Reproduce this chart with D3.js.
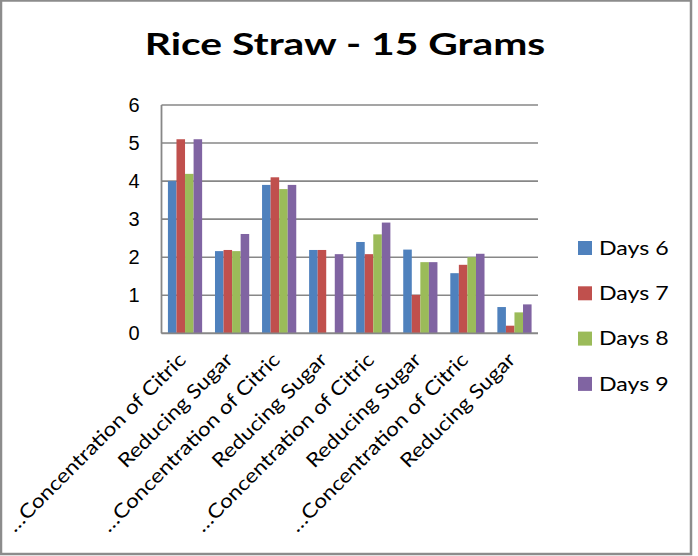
<!DOCTYPE html>
<html>
<head>
<meta charset="utf-8">
<script src="https://cdn.jsdelivr.net/npm/d3@7"></script>
<style>
  html, body { margin: 0; padding: 0; background: #fff; }
  svg { display: block; }
</style>
</head>
<body>
<svg id="chart" width="698" height="556"></svg>
<script>
// Category labels along the x axis
const categories = [
  "…Concentration of Citric", "Reducing Sugar",
  "…Concentration of Citric", "Reducing Sugar",
  "…Concentration of Citric", "Reducing Sugar",
  "…Concentration of Citric", "Reducing Sugar"
];
// One value per category for each series
const days6 = [4.0, 2.16, 3.9, 2.19, 2.4, 2.2, 1.58, 0.69];
const days7 = [5.1, 2.19, 4.1, 2.19, 2.08, 1.01, 1.8, 0.2];
const days8 = [4.19, 2.16, 3.79, 0, 2.6, 1.87, 2.0, 0.55];
const days9 = [5.1, 2.61, 3.9, 2.08, 2.91, 1.87, 2.09, 0.76];
const seriesNames = ["Days 6", "Days 7", "Days 8", "Days 9"];
const seriesColors = ["#4F81BD", "#C0504D", "#9BBB59", "#8064A2"];
const yTicks = [0, 1, 2, 3, 4, 5, 6];
const title = "Rice Straw - 15 Grams";

const seriesValues = [days6, days7, days8, days9];

const svg = d3.select("#chart");
const plot = { left: 161.5, right: 538, top: 105, bottom: 333.3 };
const gridColor = "#878787";
const sansFont = "Lato, 'Open Sans', sans-serif";

// Chart frame
svg.append("rect")
  .attr("x", 1).attr("y", 0.5)
  .attr("width", 690).attr("height", 553.5)
  .attr("fill", "#fff")
  .attr("stroke", "#8c8c8c").attr("stroke-width", 2.5);

// Title (Lato widened along its baseline)
svg.append("text")
  .attr("transform", `translate(345,55) scale(1.36,1)`)
  .attr("text-anchor", "middle")
  .attr("font-family", sansFont)
  .attr("font-weight", "bold")
  .attr("font-size", 30)
  .attr("fill", "#000")
  .text(title);

// Scales
const x0 = d3.scaleBand()
  .domain(d3.range(categories.length))
  .range([plot.left, plot.right])
  .paddingInner(0.273)
  .paddingOuter(0.1365);

const x1 = d3.scaleBand()
  .domain(d3.range(seriesNames.length))
  .range([0, x0.bandwidth()])
  .padding(0);

const y = d3.scaleLinear()
  .domain([0, 6])
  .range([plot.bottom, plot.top]);

// Horizontal gridlines
svg.append("g")
  .selectAll("line")
  .data(yTicks)
  .join("line")
  .attr("x1", plot.left).attr("x2", plot.right)
  .attr("y1", d => y(d)).attr("y2", d => y(d))
  .attr("stroke", gridColor).attr("stroke-width", 1.6);

// Y axis tick labels via d3.axisLeft
const yAxis = svg.append("g")
  .attr("transform", `translate(${plot.left},0)`)
  .call(d3.axisLeft(y).tickValues(yTicks).tickFormat(d3.format("d")).tickSize(0).tickPadding(22));
yAxis.select(".domain").remove();
yAxis.selectAll("text")
  .attr("font-family", "'Liberation Sans', Arial, sans-serif")
  .attr("font-size", 20)
  .attr("fill", "#000");

// Bars
const groups = svg.append("g")
  .selectAll("g")
  .data(categories.map((c, i) => i))
  .join("g")
  .attr("transform", i => `translate(${x0(i)},0)`);

groups.selectAll("rect")
  .data(i => seriesValues.map((vals, s) => ({ s, v: vals[i] })))
  .join("rect")
  .attr("x", d => x1(d.s))
  .attr("width", x1.bandwidth())
  .attr("y", d => y(d.v))
  .attr("height", d => y(0) - y(d.v))
  .attr("fill", d => seriesColors[d.s]);

// Axis lines
svg.append("line")
  .attr("x1", plot.left).attr("x2", plot.left)
  .attr("y1", plot.top).attr("y2", plot.bottom)
  .attr("stroke", gridColor).attr("stroke-width", 1.8);
svg.append("line")
  .attr("x1", plot.left).attr("x2", plot.right)
  .attr("y1", plot.bottom).attr("y2", plot.bottom)
  .attr("stroke", gridColor).attr("stroke-width", 1.8);

// Rotated category labels
svg.append("g")
  .selectAll("text")
  .data(categories)
  .join("text")
  .attr("transform", (d, i) => `translate(${x0(i) + x0.bandwidth() / 2 + 2},361) rotate(-45) scale(1.16,1)`)
  .attr("text-anchor", "end")
  .attr("font-family", sansFont)
  .attr("font-size", 19.5)
  .attr("fill", "#000")
  .text(d => d);

// Legend
const legend = svg.append("g")
  .selectAll("g")
  .data(seriesNames)
  .join("g")
  .attr("transform", (d, i) => `translate(578,${248 + i * 45.3})`);
legend.append("rect")
  .attr("x", 0).attr("y", -7)
  .attr("width", 14).attr("height", 14)
  .attr("fill", (d, i) => seriesColors[i]);
legend.append("text")
  .attr("transform", `translate(21,0) scale(1.22,1)`)
  .attr("dy", "0.35em")
  .attr("font-family", sansFont)
  .attr("font-size", 19)
  .attr("fill", "#000")
  .text(d => d);
</script>
</body>
</html>
